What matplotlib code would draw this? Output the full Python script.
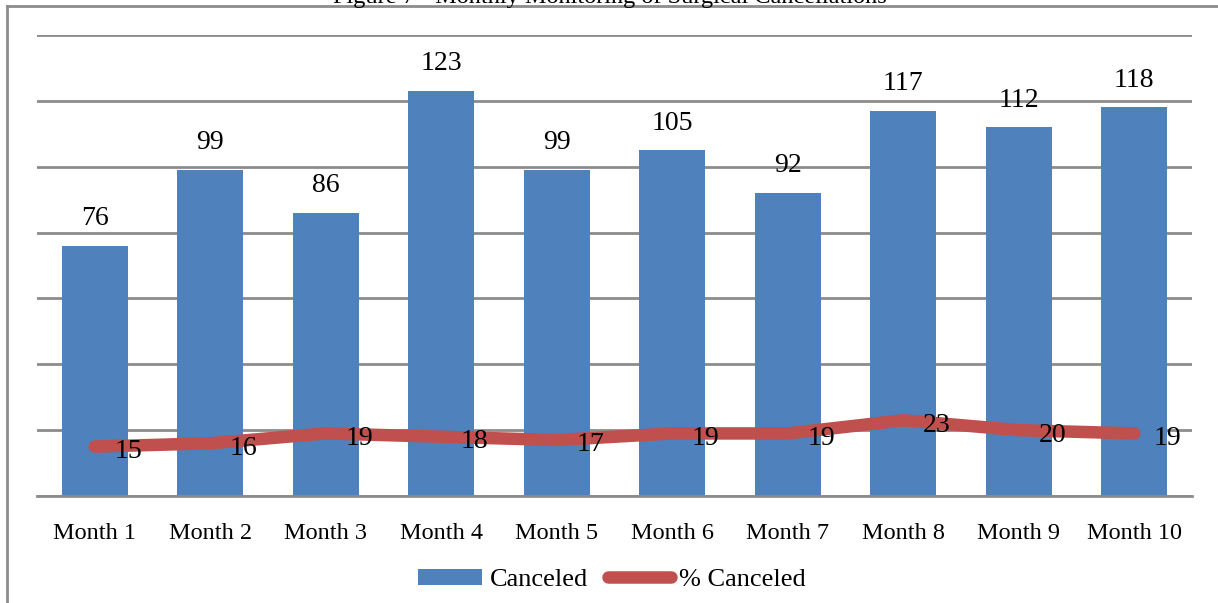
import matplotlib
matplotlib.use("Agg")
import matplotlib.pyplot as plt
from matplotlib.lines import Line2D
from matplotlib.patches import Patch
import numpy as np

months = ["Month 1", "Month 2", "Month 3", "Month 4", "Month 5",
          "Month 6", "Month 7", "Month 8", "Month 9", "Month 10"]
canceled = [76, 99, 86, 123, 99, 105, 92, 117, 112, 118]
pct_canceled = [15, 16, 19, 18, 17, 19, 19, 23, 20, 19]
title = "Figure 7 - Monthly Monitoring of Surgical Cancellations"

plt.rcParams['font.family'] = ['Liberation Serif', 'DejaVu Serif']
FS = 17.5
FS_LAB = 20
FS_LEG = 19
BLUE = "#4F81BD"
RED = "#C0504D"
GRID = "#8C8C8C"

W, H = 1218, 603
fig = plt.figure(figsize=(W / 100, H / 100), dpi=100)
ax = fig.add_axes([37 / W, (H - 496) / H, (1192 - 37) / W, (496 - 35) / H])

x = np.arange(len(months))
ax.bar(x, canceled, width=0.57, color=BLUE, zorder=2)
ax.plot(x, pct_canceled, color=RED, lw=9, solid_capstyle='round',
        solid_joinstyle='round', zorder=3)

for xi, v in zip(x, canceled):
    ax.annotate(str(v), (xi, v), xytext=(0, 19.5), textcoords='offset points',
                ha='center', va='center', fontsize=FS_LAB, zorder=4)
for xi, v in zip(x, pct_canceled):
    ax.annotate(str(v), (xi, v), xytext=(24, -3.5), textcoords='offset points',
                ha='center', va='center', fontsize=FS_LAB, zorder=4)

ax.set_xlim(-0.5, len(months) - 0.5)
ax.set_ylim(0, 140)
ax.set_yticks(np.arange(0, 141, 20))
ax.yaxis.grid(True, color=GRID, lw=2, zorder=0)
ax.set_axisbelow(True)
ax.tick_params(axis='y', left=False, labelleft=False)
ax.tick_params(axis='x', bottom=False, labelsize=FS, pad=16)
ax.set_xticks(x)
ax.set_xticklabels(months)
for s in ['top', 'right', 'left']:
    ax.spines[s].set_visible(False)
ax.spines['bottom'].set_color(GRID)
ax.spines['bottom'].set_linewidth(2)

handles = [Patch(facecolor=BLUE, edgecolor='none'),
           Line2D([0], [0], color=RED, lw=9, solid_capstyle='round')]
fig.legend(handles, ["Canceled", "% Canceled"], loc='center',
           bbox_to_anchor=(612 / W, 1 - 580 / H), ncol=2, frameon=False,
           fontsize=FS_LEG, handlelength=2.4, handletextpad=0.3,
           columnspacing=0.75, handleheight=0.6)

# outer frame (top and left edges)
fig.add_artist(Line2D([7 / W, 1], [1 - 6 / H, 1 - 6 / H], color=GRID, lw=2,
                      transform=fig.transFigure))
fig.add_artist(Line2D([7 / W, 7 / W], [0, 1 - 6 / H], color=GRID, lw=2,
                      transform=fig.transFigure))
fig.text(610 / W, 1 + 3 / H, title, ha='center', va='center', fontsize=FS)

fig.savefig("out.png", dpi=100)
